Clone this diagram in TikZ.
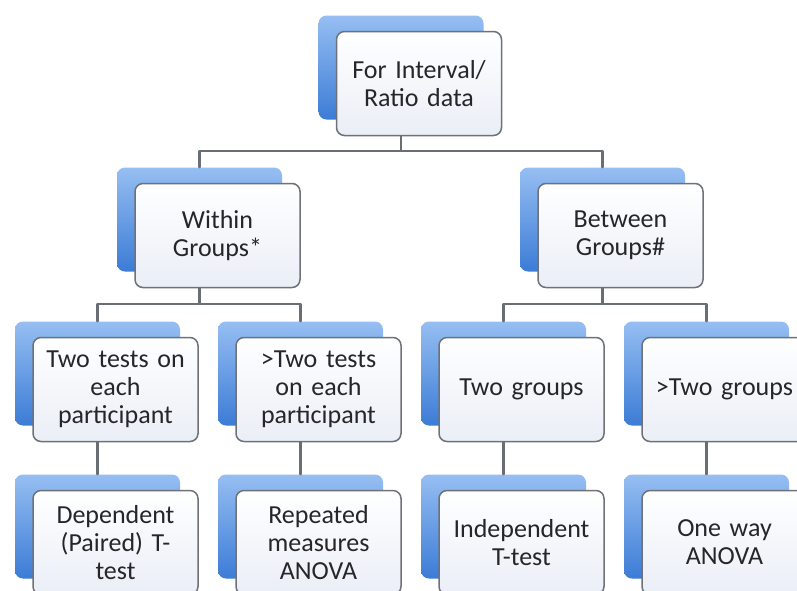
\documentclass[tikz,border=0pt]{standalone}
\usepackage{fontspec}
\setmainfont{Carlito}
\usetikzlibrary{positioning}
\definecolor{cardline}{RGB}{110,114,120}
\definecolor{cardfill}{RGB}{234,238,246}
\definecolor{backtop}{RGB}{150,190,242}
\definecolor{backbot}{RGB}{60,124,214}
\definecolor{linkgray}{RGB}{105,110,116}
\definecolor{txt}{RGB}{38,38,42}
\begin{document}
\begin{tikzpicture}[x=1pt,y=-1pt,line join=round,line cap=round,
	font=\fontsize{26}{28}\selectfont,
	card/.style={draw=cardline,line width=1.5pt,rounded corners=8pt,
		top color=white,bottom color=cardfill,minimum width=165pt,
		minimum height=104pt,text width=158pt,align=center,text=txt,
		inner sep=0pt},
	back/.style={rounded corners=8pt,top color=backtop,
		bottom color=backbot,minimum width=165pt,minimum height=104pt,
		inner sep=0pt},
	link/.style={draw=linkgray,line width=2.2pt}]
	\def\dx{18}
	\def\dy{16}
	\def\ya{83.5}
	\def\yb{235.5}
	\def\yc{389.5}
	\def\yd{542.5}
	\useasboundingbox (0,0) rectangle (797,590);
	\clip (0,0) rectangle (797,590);
	\fill[white] (0,0) rectangle (797,590);
	\path (0,151) coordinate (J1)
		(0,304) coordinate (J2);
	% top
	\node[back] (tops) at ({419-\dx},{\ya-\dy}) {};
	\node[card] (top) at (419,\ya) {For Interval/\\Ratio data};
	% second row
	\node[back] (withins) at ({217.5-\dx},{\yb-\dy}) {};
	\node[card] (within) at (217.5,\yb) {Within\\Groups*};
	\node[back] (betweens) at ({620.5-\dx},{\yb-\dy}) {};
	\node[card] (between) at (620.5,\yb) {Between\\Groups\#};
	% third row
	\node[back] (twotests) at ({115.5-\dx},{\yc-\dy}) {};
	\node[card] (twotest) at (115.5,\yc) {Two tests on\\each\\participant};
	\node[back] (moretests) at ({318.5-\dx},{\yc-\dy}) {};
	\node[card] (moretest) at (318.5,\yc) {>Two tests\\on each\\participant};
	\node[back] (twogrps) at ({521.5-\dx},{\yc-\dy}) {};
	\node[card] (twogrp) at (521.5,\yc) {Two groups};
	\node[back] (moregrps) at ({724.5-\dx},{\yc-\dy}) {};
	\node[card] (moregrp) at (724.5,\yc) {>Two groups};
	% fourth row
	\node[back] (depts) at ({115.5-\dx},{\yd-\dy}) {};
	\node[card] (dept) at (115.5,\yd) {Dependent\\(Paired) T-\\test};
	\node[back] (reps) at ({318.5-\dx},{\yd-\dy}) {};
	\node[card] (rep) at (318.5,\yd) {Repeated\\measures\\ANOVA};
	\node[back] (indts) at ({521.5-\dx},{\yd-\dy}) {};
	\node[card] (indt) at (521.5,\yd) {Independent\\T-test};
	\node[back] (anovas) at ({724.5-\dx},{\yd-\dy}) {};
	\node[card] (anova) at (724.5,\yd) {One way\\ANOVA};
	% links
	\draw[link] (top.south -| tops.north) |- (withins.north |- J1) -- (withins.north);
	\draw[link] (top.south -| tops.north) |- (betweens.north |- J1) -- (betweens.north);
	\draw[link] (within.south -| withins.north) |- (twotests.north |- J2) -- (twotests.north);
	\draw[link] (within.south -| withins.north) |- (moretests.north |- J2) -- (moretests.north);
	\draw[link] (between.south -| betweens.north) |- (twogrps.north |- J2) -- (twogrps.north);
	\draw[link] (between.south -| betweens.north) |- (moregrps.north |- J2) -- (moregrps.north);
	\draw[link] (twotest.south -| twotests.north) -- (depts.north);
	\draw[link] (moretest.south -| moretests.north) -- (reps.north);
	\draw[link] (twogrp.south -| twogrps.north) -- (indts.north);
	\draw[link] (moregrp.south -| moregrps.north) -- (anovas.north);
\end{tikzpicture}
\end{document}
